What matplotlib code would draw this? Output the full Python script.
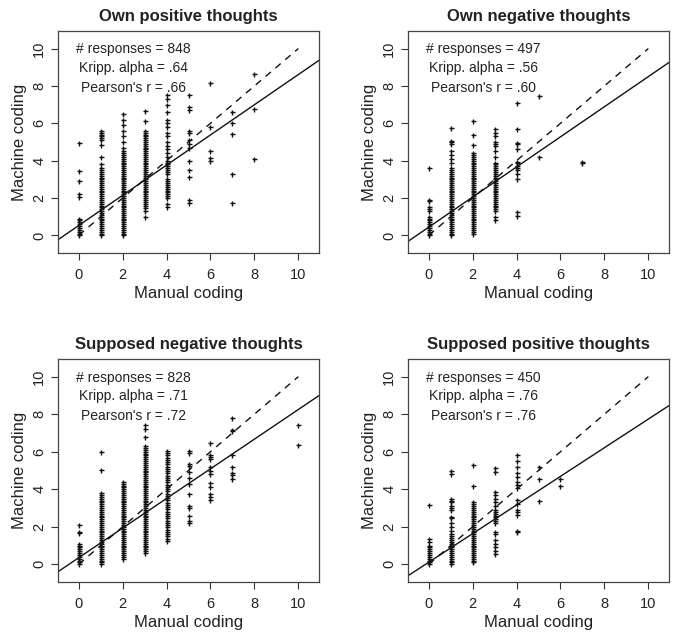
import matplotlib
matplotlib.use("Agg")
import matplotlib.pyplot as plt
import numpy as np

plt.rcParams['font.family'] = ['Liberation Sans', 'DejaVu Sans']

titles = ["Own positive thoughts", "Own negative thoughts",
          "Supposed negative thoughts", "Supposed positive thoughts"]
n_responses = [848, 497, 828, 450]
kripp_alpha = [".64", ".56", ".71", ".76"]
pearson_r = [".66", ".60", ".72", ".76"]
# regression line (intercept, slope)
reg_intercept = [0.53, 0.44, 0.35, 0.11]
reg_slope = [0.808, 0.806, 0.79, 0.763]

def dense(lo, hi, step=0.1):
    vals = []
    v = lo
    while v <= hi + 1e-9:
        vals.append(round(v, 2))
        v += step
    return vals

# Panel 1: Own positive thoughts  {manual code: machine codes}
own_pos = {
    0: [4.93, 3.45, 2.9, 2.2, 2.05, 0.9, 0.8, 0.7, 0.6, 0.5, 0.4, 0.3, 0.2, 0.1, 0.0],
    1: dense(0.0, 3.6) + [3.8, 4.2, 4.85, 5.1, 5.2, 5.3, 5.4, 5.5, 5.6],
    2: dense(0.0, 4.5) + [4.7, 5.0, 5.3, 5.6, 5.9, 6.2, 6.5],
    3: [1.0, 1.3, 1.45] + dense(1.6, 5.6) + [6.1, 6.65],
    4: [1.5, 1.7, 2.0, 2.1, 2.2, 2.3, 2.4, 2.5, 2.6, 2.7, 2.8, 2.9, 3.0, 3.3, 3.4,
        3.5, 3.6, 3.7, 3.8, 3.9, 4.0, 4.2, 4.4, 4.6, 4.8, 5.0, 5.3, 5.5, 5.8, 6.0,
        6.2, 6.6, 7.0, 7.3, 7.5],
    5: [7.5, 6.85, 6.7, 5.6, 5.5, 5.1, 4.9, 4.7, 4.0, 3.5, 3.15, 1.9, 1.75],
    6: [8.15, 5.8, 4.5, 4.15, 4.0],
    7: [6.6, 6.0, 5.45, 3.3, 1.75],
    8: [8.65, 6.75, 4.1],
}

# Panel 2: Own negative thoughts
own_neg = {
    0: [3.6, 1.9, 1.85, 1.5, 1.4, 1.3] + dense(0.0, 1.0),
    1: dense(0.0, 3.5) + [3.6, 3.9, 4.1, 4.3, 4.5, 4.9, 5.0, 5.05, 5.75],
    2: dense(0.1, 4.4) + [4.85, 5.4, 6.15],
    3: [0.85, 1.0] + dense(1.3, 3.9) + [4.2, 4.5, 4.8, 4.9, 5.0, 5.3, 5.5, 5.7],
    4: [1.05, 1.25, 3.0, 3.3, 3.5, 3.6, 3.7, 3.85, 3.95, 4.65, 4.9, 4.95, 5.7, 7.1],
    5: [7.45, 4.2],
    7: [3.85, 3.95],
}

# Panel 3: Supposed negative thoughts
sup_neg = {
    0: [2.1, 1.7, 1.65] + dense(0.0, 1.1),
    1: dense(0.0, 3.85) + [5.05, 5.97],
    2: dense(0.3, 4.45),
    3: dense(0.6, 6.3) + [6.8, 7.2, 7.4],
    4: dense(1.25, 6.15, 0.12),
    5: [6.05, 5.95, 5.35, 5.25, 4.9, 4.6, 4.3, 3.75, 3.1, 3.0, 2.6, 2.3, 2.2],
    6: [6.45, 5.8, 5.7, 5.6, 5.2, 4.95, 4.8, 4.35, 4.1, 3.75, 3.6, 3.45],
    7: [7.8, 7.15, 7.1, 5.85, 5.2, 4.85, 4.75, 4.55],
    10: [7.4, 6.35],
}

# Panel 4: Supposed positive thoughts
sup_pos = {
    0: [3.15, 1.35, 1.2] + dense(0.0, 1.0),
    1: dense(0.0, 1.4) + [1.5, 1.6, 1.8, 2.0, 2.2, 2.45, 2.5, 2.9, 3.0, 3.1,
                          3.3, 3.4, 3.5, 4.8, 5.0],
    2: dense(0.1, 3.3) + [4.15, 5.3],
    3: [0.55, 0.7, 0.9, 1.1, 1.3, 1.6, 1.75, 2.2, 2.3, 2.4, 2.5, 2.6, 2.7, 2.8,
        2.9, 3.1, 3.3, 3.5, 3.7, 3.85, 4.9, 5.15],
    4: [1.75, 1.8, 2.65, 2.8, 2.9, 3.2, 3.45, 4.05, 4.25, 4.4, 4.65, 4.85, 5.2,
        5.5, 5.85],
    5: [5.2, 4.55, 3.35],
    6: [4.55, 4.15],
}

panels = [own_pos, own_neg, sup_neg, sup_pos]

fig = plt.figure(figsize=(6.79, 6.41), dpi=100)
W, H = 679, 641
boxes = [(58, 31, 319, 253), (408, 31, 669, 253),
         (58, 359, 319, 582), (408, 359, 669, 582)]

ticks = [0, 2, 4, 6, 8, 10]
txtcol = '#222222'
for i, data in enumerate(panels):
    l, t, r, b = boxes[i]
    ax = fig.add_axes([l / W, 1 - b / H, (r - l) / W, (b - t) / H])
    xs, ys = [], []
    for k, vals in data.items():
        xs += [k] * len(vals)
        ys += vals
    ax.plot(xs, ys, linestyle='none', marker='+', markersize=3.6,
            markeredgewidth=1.0, color='#111111')
    ax.plot([0, 10], [0, 10], color='#111111', lw=1.0, dashes=(5, 4.3))
    ax.axline((0, reg_intercept[i]), slope=reg_slope[i], color='#111111', lw=1.0)
    ax.set_xlim(-0.94, 10.94)
    ax.set_ylim(-0.94, 10.94)
    ax.set_xticks(ticks)
    ax.set_yticks(ticks)
    ax.set_xticklabels([str(v) for v in ticks], fontsize=10.5, color=txtcol)
    ax.set_yticklabels([str(v) for v in ticks], fontsize=10.5, color=txtcol,
                       rotation=90, va='center')
    ax.tick_params(axis='both', direction='out', length=5, width=0.8,
                   color='#333333')
    ax.tick_params(axis='x', pad=5.5)
    ax.tick_params(axis='y', pad=3.5)
    for s in ax.spines.values():
        s.set_color('#444444')
        s.set_linewidth(0.9)
    ax.set_xlabel("Manual coding", fontsize=12, color=txtcol, labelpad=3)
    ax.set_ylabel("Machine coding", fontsize=12, color=txtcol, labelpad=4)
    ax.set_title(titles[i], fontsize=12, fontweight='bold', color=txtcol, pad=7)
    ax.text(2.5, 9.95, f"# responses = {n_responses[i]}", ha='center',
            va='center', fontsize=10, color=txtcol)
    ax.text(2.5, 8.95, f"Kripp. alpha = {kripp_alpha[i]}", ha='center',
            va='center', fontsize=10, color=txtcol)
    ax.text(2.5, 7.9, f"Pearson's r = {pearson_r[i]}", ha='center',
            va='center', fontsize=10, color=txtcol)

fig.savefig("out.png", dpi=100)
